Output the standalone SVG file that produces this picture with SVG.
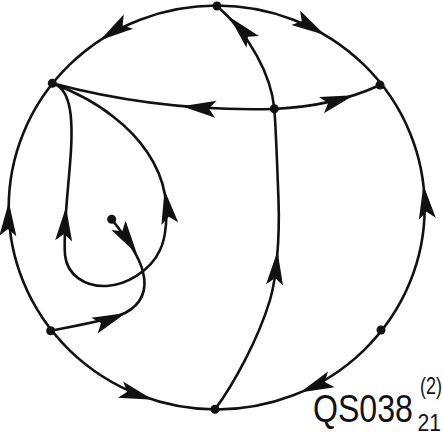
<svg xmlns="http://www.w3.org/2000/svg" xmlns:xlink="http://www.w3.org/1999/xlink" width="443" height="436" viewBox="0 0 443 436">
<style>
.ln{fill:none;stroke:#111;stroke-width:2.6;stroke-linecap:round}
.nd{fill:#111}
.ah{fill:#111}
.lbl{font-family:"Liberation Sans",Arial,sans-serif;fill:#111}
</style>
<defs>
<path id="ah" d="M0,0 L-34,-8.5 L-27,0 L-34,8.5 Z"/>
</defs>
<rect width="443" height="436" fill="#fff"/>
<g id="connectors">
<ellipse class="ln" cx="216.7" cy="207.5" rx="208" ry="202"/>
<path class="ln" d="M274,109 Q160,112 52.3,83.3"/>
<path class="ln" d="M274,109 Q335,106 380,85"/>
<path class="ln" d="M215,409.3 C233,385 258,340 270,300 C276,280 280,240 278.5,200 C277,160 276,130 274.3,108.3 C271,75 250,35 217,6"/>
<path class="ln" d="M52.3,83.3 C70,88 73,115 71,150 C69,185 63,225 65,255 C67,275 85,287 106.7,286 C125,285 150,272 160,250 C166,238 168,215 165,195 C160,165 140,137 113.3,116.7 C95,102 75,92 52.3,83.3"/>
<path class="ln" d="M50.7,330.7 C80,325 110,320 125,313 C140,305 148,292 143,272 C141,263 136,250 111.7,219.3"/>
<g class="ah">
<use xlink:href="#ah" transform="translate(100,40.3) rotate(146.7)"/>
<use xlink:href="#ah" transform="translate(325,35.1) rotate(30.6)"/>
<use xlink:href="#ah" transform="translate(423.4,185) rotate(-96.6)"/>
<use xlink:href="#ah" transform="translate(300,392.6) rotate(157)"/>
<use xlink:href="#ah" transform="translate(153,399.8) rotate(17.3)"/>
<use xlink:href="#ah" transform="translate(8.8,202) rotate(-88.4)"/>
<use xlink:href="#ah" transform="translate(182,106.2) rotate(185)"/>
<use xlink:href="#ah" transform="translate(354,95.2) rotate(-17)"/>
<use xlink:href="#ah" transform="translate(229.5,17) rotate(-133)"/>
<use xlink:href="#ah" transform="translate(277.5,251) rotate(-85)"/>
<use xlink:href="#ah" transform="translate(66,207) rotate(-86)"/>
<use xlink:href="#ah" transform="translate(164.5,190) rotate(-99)"/>
<use xlink:href="#ah" transform="translate(126,313) rotate(-22)"/>
<use xlink:href="#ah" transform="translate(137,254) rotate(57)"/>
</g>
</g>
<g id="n-top"><circle class="nd" cx="217" cy="6" r="4.5"/></g>
<g id="n-ul"><circle class="nd" cx="52.3" cy="83.3" r="4.5"/></g>
<g id="n-ur"><circle class="nd" cx="380" cy="85" r="4.5"/></g>
<g id="n-mid"><circle class="nd" cx="274.3" cy="108.8" r="4.5"/></g>
<g id="n-ll"><circle class="nd" cx="50.7" cy="330.7" r="4.5"/></g>
<g id="n-lr"><circle class="nd" cx="381" cy="330" r="4.5"/></g>
<g id="n-bot"><circle class="nd" cx="215" cy="409.3" r="4.5"/></g>
<g id="n-in"><circle class="nd" cx="111.7" cy="219.3" r="4.5"/></g>
<g id="label">
<text class="lbl" transform="translate(313,422) scale(0.845,1)" font-size="38">QS038</text>
<text class="lbl" transform="translate(420,394) scale(0.75,1)" font-size="24">(2)</text>
<text class="lbl" transform="translate(417.5,431) scale(0.88,1)" font-size="24">21</text>
</g>
</svg>
